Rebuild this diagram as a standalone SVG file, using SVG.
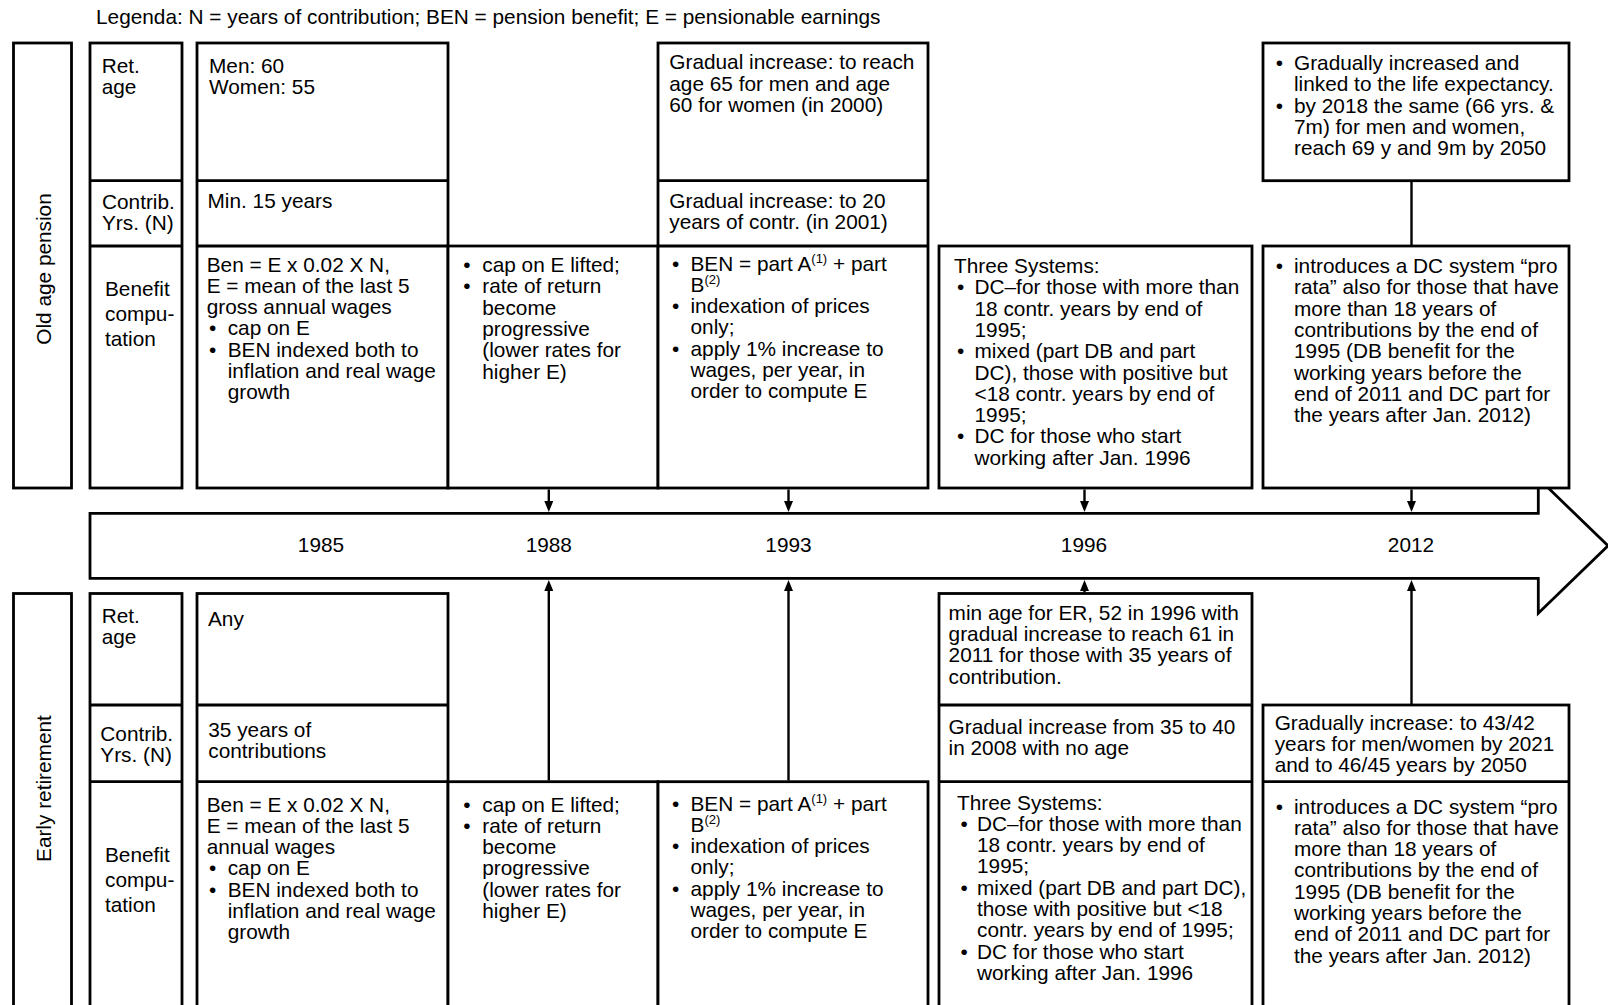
<svg xmlns="http://www.w3.org/2000/svg" width="1608" height="1005" viewBox="0 0 1608 1005">
<style>
.b{fill:#fff;stroke:#000;stroke-width:2.8}
.ln{fill:none;stroke:#000;stroke-width:2.8}
.t{font-family:"Liberation Sans",Arial,sans-serif;font-size:20.8px;fill:#000}
.m{text-anchor:middle}
.sup{font-size:13px}
.c{fill:none;stroke:#000;stroke-width:2.4}
</style>
<defs>
<marker id="ah" viewBox="0 0 11 9" refX="2" refY="4.5" markerWidth="11" markerHeight="9" markerUnits="userSpaceOnUse" orient="auto">
<path d="M0,0 L11,4.5 L0,9 z" fill="#000"/>
</marker>
</defs>
<rect width="1608" height="1005" fill="#fff"/>
<text class="t" x="96" y="23.5">Legenda: N = years of contribution; BEN = pension benefit; E = pensionable earnings</text>

<g id="timeline">
<polygon class="b" points="90,513.3 1538.3,513.3 1538.3,478.3 1608,545.8 1538.3,613.3 1538.3,578.3 90,578.3"/>
<text class="t m" x="321" y="552">1985</text>
<text class="t m" x="548.8" y="552">1988</text>
<text class="t m" x="788.5" y="552">1993</text>
<text class="t m" x="1084" y="552">1996</text>
<text class="t m" x="1411" y="552">2012</text>
</g>

<g id="connectors">
<line class="c" x1="548.8" y1="489.5" x2="548.8" y2="503"  marker-end="url(#ah)"/>
<line class="c" x1="788.5" y1="489.5" x2="788.5" y2="503"  marker-end="url(#ah)"/>
<line class="c" x1="1084.5" y1="489.5" x2="1084.5" y2="503"  marker-end="url(#ah)"/>
<line class="c" x1="1411.5" y1="489.5" x2="1411.5" y2="503"  marker-end="url(#ah)"/>
<line class="c" x1="1411.5" y1="180.7" x2="1411.5" y2="246"/>
<line class="c" x1="548.8" y1="780.5" x2="548.8" y2="589"  marker-end="url(#ah)"/>
<line class="c" x1="788.5" y1="780.5" x2="788.5" y2="589"  marker-end="url(#ah)"/>
<line class="c" x1="1084.5" y1="592.5" x2="1084.5" y2="589"  marker-end="url(#ah)"/>
<line class="c" x1="1411.5" y1="704" x2="1411.5" y2="589"  marker-end="url(#ah)"/>
</g>

<!-- ===== Old age pension (top) ===== -->
<g id="label-oap">
<rect class="b" x="13.5" y="43" width="58" height="445"/>
<text class="t m" transform="translate(43,269) rotate(-90)" x="0" y="7.5">Old age pension</text>
</g>
<g id="hdr-oap">
<rect class="b" x="90" y="43" width="92" height="445"/>
<line class="ln" x1="90" y1="180.7" x2="182" y2="180.7"/>
<line class="ln" x1="90" y1="246" x2="182" y2="246"/>
<text class="t"><tspan x="101.7" y="72.5">Ret.</tspan><tspan x="101.7" y="93.8">age</tspan></text>
<text class="t"><tspan x="102" y="208.5">Contrib.</tspan><tspan x="102" y="229.8">Yrs. (N)</tspan></text>
<text class="t"><tspan x="105" y="296">Benefit</tspan><tspan x="105" y="321">compu-</tspan><tspan x="105" y="346">tation</tspan></text>
</g>
<g id="oap-1985">
<rect class="b" x="197" y="43" width="251" height="445"/>
<line class="ln" x1="197" y1="180.7" x2="448" y2="180.7"/>
<line class="ln" x1="197" y1="246" x2="448" y2="246"/>
<text class="t"><tspan x="209" y="72.5">Men: 60</tspan><tspan x="209" y="93.8">Women: 55</tspan></text>
<text class="t" x="207.5" y="207.5">Min. 15 years</text>
<text class="t"><tspan x="206.7" y="271.5">Ben = E x 0.02 X N,</tspan><tspan x="206.7" y="292.8">E = mean of the last 5</tspan><tspan x="206.7" y="314.1">gross annual wages</tspan><tspan x="209" y="335.4">•</tspan><tspan x="227.7" y="335.4">cap on E</tspan><tspan x="209" y="356.7">•</tspan><tspan x="227.7" y="356.7">BEN indexed both to</tspan><tspan x="227.7" y="378">inflation and real wage</tspan><tspan x="227.7" y="399.3">growth</tspan></text>
</g>
<g id="oap-1988">
<rect class="b" x="448" y="246" width="210" height="242"/>
<text class="t"><tspan x="463.3" y="272">•</tspan><tspan x="482.3" y="272">cap on E lifted;</tspan><tspan x="463.3" y="293.3">•</tspan><tspan x="482.3" y="293.3">rate of return</tspan><tspan x="482.3" y="314.6">become</tspan><tspan x="482.3" y="335.9">progressive</tspan><tspan x="482.3" y="357.2">(lower rates for</tspan><tspan x="482.3" y="378.5">higher E)</tspan></text>
</g>
<g id="oap-1993">
<rect class="b" x="658" y="43" width="270" height="445"/>
<line class="ln" x1="658" y1="180.7" x2="928" y2="180.7"/>
<line class="ln" x1="658" y1="246" x2="928" y2="246"/>
<text class="t"><tspan x="669.3" y="69.3">Gradual increase: to reach</tspan><tspan x="669.3" y="90.6">age 65 for men and age</tspan><tspan x="669.3" y="111.9">60 for women (in 2000)</tspan></text>
<text class="t"><tspan x="669.3" y="207.5">Gradual increase: to 20</tspan><tspan x="669.3" y="228.8">years of contr. (in 2001)</tspan></text>
<text class="t"><tspan x="672" y="270.5">•</tspan><tspan x="690.5" y="270.5">BEN = part A</tspan><tspan class="sup" dy="-8">(1)</tspan><tspan dy="8"> + part</tspan><tspan x="690.5" y="291.8">B</tspan><tspan class="sup" dy="-8">(2)</tspan><tspan x="672" y="313.1">•</tspan><tspan x="690.5" y="313.1">indexation of prices</tspan><tspan x="690.5" y="334.4">only;</tspan><tspan x="672" y="355.7">•</tspan><tspan x="690.5" y="355.7">apply 1% increase to</tspan><tspan x="690.5" y="377">wages, per year, in</tspan><tspan x="690.5" y="398.3">order to compute E</tspan></text>
</g>
<g id="oap-1996">
<rect class="b" x="939" y="246" width="313" height="242"/>
<text class="t"><tspan x="954" y="273">Three Systems:</tspan><tspan x="957" y="294.3">•</tspan><tspan x="974.5" y="294.3">DC–for those with more than</tspan><tspan x="974.5" y="315.6">18 contr. years by end of</tspan><tspan x="974.5" y="336.9">1995;</tspan><tspan x="957" y="358.2">•</tspan><tspan x="974.5" y="358.2">mixed (part DB and part</tspan><tspan x="974.5" y="379.5">DC), those with positive but</tspan><tspan x="974.5" y="400.8">&lt;18 contr. years by end of</tspan><tspan x="974.5" y="422.1">1995;</tspan><tspan x="957" y="443.4">•</tspan><tspan x="974.5" y="443.4">DC for those who start</tspan><tspan x="974.5" y="464.7">working after Jan. 1996</tspan></text>
</g>
<g id="oap-2012-age">
<rect class="b" x="1263" y="43" width="306" height="137.7"/>
<text class="t"><tspan x="1275.7" y="70">•</tspan><tspan x="1294" y="70">Gradually increased and</tspan><tspan x="1294" y="91.3">linked to the life expectancy.</tspan><tspan x="1275.7" y="112.6">•</tspan><tspan x="1294" y="112.6">by 2018 the same (66 yrs. &amp;</tspan><tspan x="1294" y="133.9">7m) for men and women,</tspan><tspan x="1294" y="155.2">reach 69 y and 9m by 2050</tspan></text>
</g>
<g id="oap-2012-ben">
<rect class="b" x="1263" y="246" width="306" height="242"/>
<text class="t"><tspan x="1275.7" y="273">•</tspan><tspan x="1294" y="273">introduces a DC system “pro</tspan><tspan x="1294" y="294.3">rata” also for those that have</tspan><tspan x="1294" y="315.6">more than 18 years of</tspan><tspan x="1294" y="336.9">contributions by the end of</tspan><tspan x="1294" y="358.2">1995 (DB benefit for the</tspan><tspan x="1294" y="379.5">working years before the</tspan><tspan x="1294" y="400.8">end of 2011 and DC part for</tspan><tspan x="1294" y="422.1">the years after Jan. 2012)</tspan></text>
</g>

<!-- ===== Early retirement (bottom) ===== -->
<g id="label-er">
<rect class="b" x="13.5" y="593.5" width="58" height="430"/>
<text class="t m" transform="translate(43,788.6) rotate(-90)" x="0" y="7.5">Early retirement</text>
</g>
<g id="hdr-er">
<rect class="b" x="90" y="593.5" width="92" height="430"/>
<line class="ln" x1="90" y1="705" x2="182" y2="705"/>
<line class="ln" x1="90" y1="781.7" x2="182" y2="781.7"/>
<text class="t"><tspan x="101.7" y="623">Ret.</tspan><tspan x="101.7" y="644.3">age</tspan></text>
<text class="t"><tspan x="100.3" y="740.5">Contrib.</tspan><tspan x="100.3" y="761.8">Yrs. (N)</tspan></text>
<text class="t"><tspan x="105" y="861.7">Benefit</tspan><tspan x="105" y="886.7">compu-</tspan><tspan x="105" y="911.7">tation</tspan></text>
</g>
<g id="er-1985">
<rect class="b" x="197" y="593.5" width="251" height="430"/>
<line class="ln" x1="197" y1="705" x2="448" y2="705"/>
<line class="ln" x1="197" y1="781.7" x2="448" y2="781.7"/>
<text class="t" x="208" y="625.5">Any</text>
<text class="t"><tspan x="208.3" y="736.7">35 years of</tspan><tspan x="208.3" y="758">contributions</tspan></text>
<text class="t"><tspan x="206.7" y="811.5">Ben = E x 0.02 X N,</tspan><tspan x="206.7" y="832.8">E = mean of the last 5</tspan><tspan x="206.7" y="854.1">annual wages</tspan><tspan x="209" y="875.4">•</tspan><tspan x="227.7" y="875.4">cap on E</tspan><tspan x="209" y="896.7">•</tspan><tspan x="227.7" y="896.7">BEN indexed both to</tspan><tspan x="227.7" y="918">inflation and real wage</tspan><tspan x="227.7" y="939.3">growth</tspan></text>
</g>
<g id="er-1988">
<rect class="b" x="448" y="781.7" width="210" height="242"/>
<text class="t"><tspan x="463.3" y="811.5">•</tspan><tspan x="482.3" y="811.5">cap on E lifted;</tspan><tspan x="463.3" y="832.8">•</tspan><tspan x="482.3" y="832.8">rate of return</tspan><tspan x="482.3" y="854.1">become</tspan><tspan x="482.3" y="875.4">progressive</tspan><tspan x="482.3" y="896.7">(lower rates for</tspan><tspan x="482.3" y="918">higher E)</tspan></text>
</g>
<g id="er-1993">
<rect class="b" x="658" y="781.7" width="270" height="242"/>
<text class="t"><tspan x="672" y="810.5">•</tspan><tspan x="690.5" y="810.5">BEN = part A</tspan><tspan class="sup" dy="-8">(1)</tspan><tspan dy="8"> + part</tspan><tspan x="690.5" y="831.8">B</tspan><tspan class="sup" dy="-8">(2)</tspan><tspan x="672" y="853.1">•</tspan><tspan x="690.5" y="853.1">indexation of prices</tspan><tspan x="690.5" y="874.4">only;</tspan><tspan x="672" y="895.7">•</tspan><tspan x="690.5" y="895.7">apply 1% increase to</tspan><tspan x="690.5" y="917">wages, per year, in</tspan><tspan x="690.5" y="938.3">order to compute E</tspan></text>
</g>
<g id="er-1996">
<rect class="b" x="939" y="593.5" width="313" height="430"/>
<line class="ln" x1="939" y1="705" x2="1252" y2="705"/>
<line class="ln" x1="939" y1="781.7" x2="1252" y2="781.7"/>
<text class="t"><tspan x="948.6" y="619.7">min age for ER, 52 in 1996 with</tspan><tspan x="948.6" y="641">gradual increase to reach 61 in</tspan><tspan x="948.6" y="662.3">2011 for those with 35 years of</tspan><tspan x="948.6" y="683.6">contribution.</tspan></text>
<text class="t"><tspan x="948.6" y="734">Gradual increase from 35 to 40</tspan><tspan x="948.6" y="755.3">in 2008 with no age</tspan></text>
<text class="t"><tspan x="957" y="809.5">Three Systems:</tspan><tspan x="960.4" y="830.8">•</tspan><tspan x="977" y="830.8">DC–for those with more than</tspan><tspan x="977" y="852.1">18 contr. years by end of</tspan><tspan x="977" y="873.4">1995;</tspan><tspan x="960.4" y="894.7">•</tspan><tspan x="977" y="894.7">mixed (part DB and part DC),</tspan><tspan x="977" y="916">those with positive but &lt;18</tspan><tspan x="977" y="937.3">contr. years by end of 1995;</tspan><tspan x="960.4" y="958.6">•</tspan><tspan x="977" y="958.6">DC for those who start</tspan><tspan x="977" y="979.9">working after Jan. 1996</tspan></text>
</g>
<g id="er-2012">
<rect class="b" x="1263" y="705" width="306" height="320"/>
<line class="ln" x1="1263" y1="781.7" x2="1569" y2="781.7"/>
<text class="t"><tspan x="1274.7" y="729.5">Gradually increase: to 43/42</tspan><tspan x="1274.7" y="750.8">years for men/women by 2021</tspan><tspan x="1274.7" y="772.1">and to 46/45 years by 2050</tspan></text>
<text class="t"><tspan x="1275.7" y="813.5">•</tspan><tspan x="1294" y="813.5">introduces a DC system “pro</tspan><tspan x="1294" y="834.8">rata” also for those that have</tspan><tspan x="1294" y="856.1">more than 18 years of</tspan><tspan x="1294" y="877.4">contributions by the end of</tspan><tspan x="1294" y="898.7">1995 (DB benefit for the</tspan><tspan x="1294" y="920">working years before the</tspan><tspan x="1294" y="941.3">end of 2011 and DC part for</tspan><tspan x="1294" y="962.6">the years after Jan. 2012)</tspan></text>
</g>
</svg>
